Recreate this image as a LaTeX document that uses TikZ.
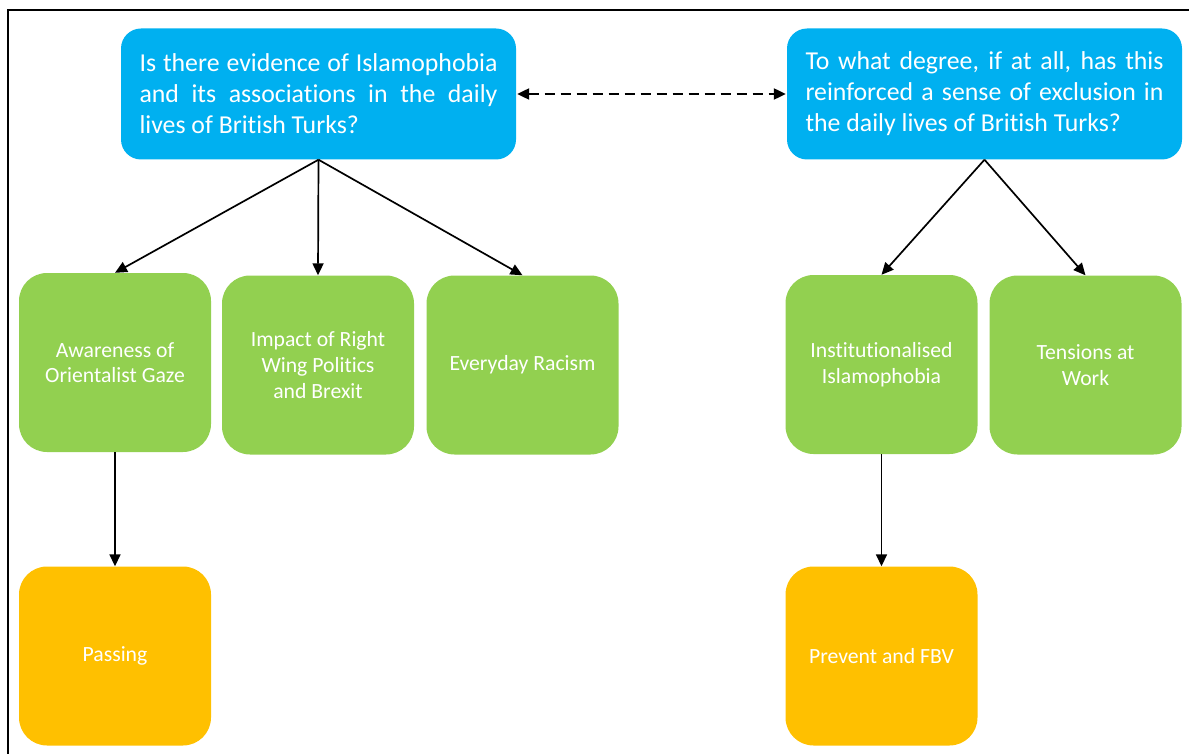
\documentclass[tikz,border=0pt]{standalone}
\usepackage{fontspec}
\setmainfont{Carlito}[Ligatures=NoCommon]
\usetikzlibrary{arrows.meta}
\definecolor{qblue}{HTML}{00B0F0}
\definecolor{tgreen}{HTML}{92D050}
\definecolor{sorange}{HTML}{FFC000}
\hyphenpenalty=10000
\exhyphenpenalty=10000
\begin{document}
\begin{tikzpicture}[x=1pt,y=-1pt,>={Triangle[length=12pt,width=11pt]},
  question/.style={fill=qblue,rounded corners=20pt,minimum width=395pt,minimum height=131pt,text width=358pt,align=justify,inner sep=0pt,text=white,font=\fontsize{25.8}{31}\selectfont},
  theme/.style={fill=tgreen,rounded corners=28pt,minimum width=192pt,minimum height=179pt,align=center,inner sep=0pt,text=white,font=\fontsize{21.7}{25.7}\selectfont},
  subtheme/.style={theme,fill=sorange},
  link/.style={->,line width=1.7pt}]
\useasboundingbox (0,0) rectangle (1189,754);
\draw[line width=2pt] (7.5,754) -- (7.5,10) -- (1189,10);
\node[question] (q1) at (318.5,94) {Is there evidence of Islamophobia and its associations in the daily lives of British Turks?};
\node[question] (q2) at (984.5,94) {To what degree, if at all, has this reinforced a sense of exclusion in the daily lives of British Turks?};
\node[theme] (aware) at (115,362.5) {Awareness of\\Orientalist Gaze};
\node[theme] (impact) at (318,365) {Impact of Right\\Wing Politics\\and Brexit};
\node[theme] (racism) at (522.5,365) {Everyday Racism};
\node[theme] (inst) at (881.5,364.5) {Institutionalised\\Islamophobia};
\node[theme] (work) at (1085.5,365) {Tensions at\\Work};
\node[subtheme] (passing) at (115,656) {Passing};
\node[subtheme] (prevent) at (881.5,656) {Prevent and FBV};
\draw[<->,line width=2.2pt,dash pattern=on 10pt off 6pt,shorten <=1pt,shorten >=1pt] (q1.east) -- (q2.west);
\draw[link] (q1.south) -- (aware.north);
\draw[link] (q1.south) -- (impact.north);
\draw[link] (q1.south) -- (racism.north);
\draw[link] (q2.south) -- (inst.north);
\draw[link] (q2.south) -- (work.north);
\draw[link] (aware.south) -- (passing.north);
\draw[link] (inst.south) -- (prevent.north);
\end{tikzpicture}
\end{document}
